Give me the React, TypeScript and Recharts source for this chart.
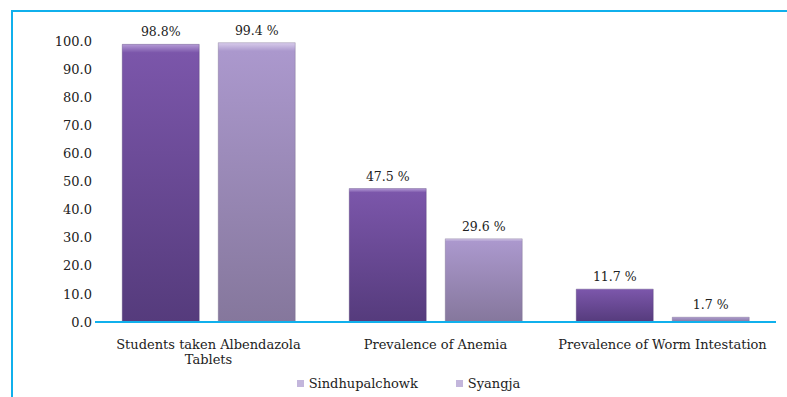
import React from 'react';
import { BarChart, Bar, XAxis, YAxis, Legend, LabelList, Text } from 'recharts';

const categories = [
  'Students taken Albendazola Tablets',
  'Prevalence of Anemia',
  'Prevalence of Worm Intestation',
];
const sindhupalchowk = [98.8, 47.5, 11.7];
const syangja = [99.4, 29.6, 1.7];
const sindhupalchowkLabels = ['98.8%', '47.5 %', '11.7 %'];
const syangjaLabels = ['99.4 %', '29.6 %', '1.7 %'];
const yTicks = [0, 10, 20, 30, 40, 50, 60, 70, 80, 90, 100];

const data = categories.map((name, i) => ({
  name,
  Sindhupalchowk: sindhupalchowk[i],
  Syangja: syangja[i],
  labelA: sindhupalchowkLabels[i],
  labelB: syangjaLabels[i],
}));

const FONT = '"DejaVu Serif", serif';
const BLUE = '#10b0ec';

const CategoryTick = (props: any) => {
  const { x, y, payload } = props;
  return (
    <Text
      x={x}
      y={y + 10}
      width={225}
      textAnchor="middle"
      verticalAnchor="start"
      lineHeight={15}
      fontSize={13}
      fontFamily={FONT}
      fill="#222"
    >
      {payload.value}
    </Text>
  );
};

const LegendContent = () => (
  <div
    style={{
      display: 'flex',
      justifyContent: 'center',
      gap: 38,
      fontFamily: FONT,
      fontSize: 13,
      color: '#222',
      paddingLeft: 6,
      paddingTop: 4,
    }}
  >
    {['Sindhupalchowk', 'Syangja'].map(name => (
      <span key={name} style={{ display: 'flex', alignItems: 'center' }}>
        <span
          style={{
            display: 'inline-block',
            width: 7,
            height: 7,
            background: '#c3b6dc',
            marginRight: 5,
          }}
        />
        {name}
      </span>
    ))}
  </div>
);

const App = () => {
  return (
    <div
      style={{
        position: 'absolute',
        left: 11,
        top: 10,
        width: 776,
        height: 387,
        borderTop: `2px solid ${BLUE}`,
        borderLeft: `2px solid ${BLUE}`,
        boxSizing: 'border-box',
        background: '#fff',
      }}
    >
      <BarChart
        width={774}
        height={385}
        data={data}
        margin={{ top: 29, right: 11, bottom: 0, left: 22 }}
        barCategoryGap="12%"
        barGap={19}
      >
        <defs>
          <linearGradient id="gradA" x1="0" y1="0" x2="0" y2="1">
            <stop offset="0%" stopColor="#b49ad6" />
            <stop offset="3%" stopColor="#7b56aa" />
            <stop offset="100%" stopColor="#553b7c" />
          </linearGradient>
          <linearGradient id="gradB" x1="0" y1="0" x2="0" y2="1">
            <stop offset="0%" stopColor="#d8cceb" />
            <stop offset="3%" stopColor="#ab98cd" />
            <stop offset="100%" stopColor="#85779c" />
          </linearGradient>
        </defs>
        <XAxis
          dataKey="name"
          axisLine={{ stroke: BLUE, strokeWidth: 2 }}
          tickLine={false}
          interval={0}
          height={50}
          tick={<CategoryTick />}
        />
        <YAxis
          domain={[0, 100]}
          ticks={yTicks}
          tickFormatter={(v: number) => v.toFixed(1)}
          axisLine={false}
          tickLine={false}
          tickSize={0}
          tickMargin={3}
          width={60}
          tick={{ fontSize: 13, fontFamily: FONT, fill: '#222' }}
        />
        <Legend verticalAlign="bottom" height={25} content={<LegendContent />} />
        <Bar
          dataKey="Sindhupalchowk"
          fill="url(#gradA)"
          stroke="#4e3870"
          strokeOpacity={0.35}
          isAnimationActive={false}
        >
          <LabelList
            dataKey="labelA"
            position="top"
            offset={8}
            fontSize={12.5}
            fontFamily={FONT}
            fill="#222"
          />
        </Bar>
        <Bar
          dataKey="Syangja"
          fill="url(#gradB)"
          stroke="#6e6284"
          strokeOpacity={0.35}
          isAnimationActive={false}
        >
          <LabelList
            dataKey="labelB"
            position="top"
            offset={8}
            fontSize={12.5}
            fontFamily={FONT}
            fill="#222"
          />
        </Bar>
      </BarChart>
    </div>
  );
};

export default App;
